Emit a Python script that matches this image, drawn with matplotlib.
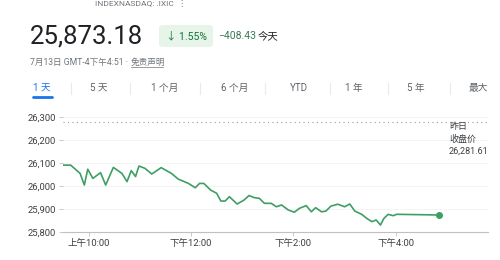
import matplotlib.pyplot as plt
from matplotlib.patches import FancyBboxPatch
from matplotlib.lines import Line2D

plt.rcParams['font.family'] = ['Roboto', 'Noto Sans CJK SC', 'DejaVu Sans']

# intraday prices
times = ["9:30", "9:39", "9:50", "9:55", "9:59", "10:05", "10:14", "10:20", "10:29", "10:39",
         "10:45", "10:50", "10:55", "10:59", "11:06", "11:14", "11:25", "11:37", "11:45", "11:57",
         "12:05", "12:10", "12:15", "12:23", "12:30", "12:35", "12:40", "12:45", "12:54", "13:02",
         "13:08", "13:14", "13:20", "13:26", "13:34", "13:40", "13:46", "13:54", "14:01", "14:07",
         "14:15", "14:21", "14:26", "14:33", "14:38", "14:44", "14:52", "15:00", "15:06", "15:12",
         "15:20", "15:26", "15:32", "15:37", "15:42", "15:46", "15:51", "15:57", "16:01", "16:51"]
prices = [26091, 26091, 26055, 26004, 26073, 26033, 26058, 26004, 26081, 26055,
          26019, 26067, 26041, 26087, 26077, 26052, 26080, 26055, 26030, 26011,
          25992, 26011, 26011, 25982, 25968, 25934, 25934, 25953, 25921, 25938,
          25958, 25949, 25946, 25924, 25924, 25909, 25917, 25895, 25885, 25902,
          25914, 25887, 25905, 25887, 25890, 25912, 25920, 25909, 25921, 25890,
          25876, 25858, 25844, 25851, 25829, 25858, 25876, 25870, 25876, 25873]
prev_close = 26281.61

yticks = [25800, 25900, 26000, 26100, 26200, 26300]
xtick_times = ["10:00", "12:00", "14:00", "16:00"]
xtick_labels = ["上午10:00", "下午12:00", "下午2:00", "下午4:00"]
tabs = ["1 天", "5 天", "1 个月", "6 个月", "YTD", "1 年", "5 年", "最大"]
tab_x = [42, 99, 165, 235, 299, 354, 416, 478]


def to_min(t):
    h, m = t.split(":")
    return (int(h) - 9) * 60 + int(m) - 30


x = [to_min(t) for t in times]
green = '#3f9e64'

fig = plt.figure(figsize=(5, 2.6), dpi=100)
W, H = 500, 260


def fx(px):
    return px / W


def fy(py):
    return 1 - py / H


# header
fig.text(fx(95), fy(4), "INDEXNASDAQ: .IXIC  ⋮", fontsize=6, color='#70757a', va='center')
fig.text(fx(30), fy(37), "25,873.18", fontsize=18.5, color='#202124', va='center')
badge = FancyBboxPatch((fx(159), fy(47)), fx(54), 22 / H, boxstyle="round,pad=0,rounding_size=0.01",
                       transform=fig.transFigure, facecolor='#e6f4ea', edgecolor='none')
fig.patches.append(badge)
fig.text(fx(186), fy(36), "↓ 1.55%", fontsize=7.5, color='#137333', ha='center', va='center')
fig.text(fx(218), fy(36), "−408.43", fontsize=7.5, color='#3c7a55', va='center')
fig.text(fx(258), fy(36), "今天", fontsize=7.5, color='#202124', va='center')
fig.text(fx(30), fy(62), "7月13日 GMT-4下午4:51 · ", fontsize=6.2, color='#70757a', va='center')
fig.text(fx(131), fy(62), "免责声明", fontsize=6.2, color='#70757a', va='center')
fig.lines.append(Line2D([fx(131), fx(163)], [fy(67), fy(67)], transform=fig.transFigure,
                        color='#70757a', lw=0.5))

# range tabs
for lbl, tx in zip(tabs, tab_x):
    col = '#1a73e8' if lbl == "1 天" else '#5f6368'
    fig.text(fx(tx), fy(88), lbl, fontsize=7, color=col, ha='center', va='center')
for sx in [71, 130, 200, 265, 330, 388, 450]:
    fig.lines.append(Line2D([fx(sx), fx(sx)], [fy(83), fy(94)], transform=fig.transFigure,
                            color='#e8eaed', lw=0.8))
fig.lines.append(Line2D([fx(33), fx(52)], [fy(97), fy(97)], transform=fig.transFigure,
                        color='#1a73e8', lw=2, solid_capstyle='round'))

# chart
ax = fig.add_axes([fx(63), fy(231.7), fx(488 - 63), (231.7 - 117.3) / H])
ax.plot(x, prices, color=green, lw=1.2, solid_joinstyle='round')
ax.plot(x[-1], prices[-1], 'o', color=green, ms=4)
ax.axhline(prev_close, color='#9aa0a6', lw=0.8, ls=(0, (1, 3)))
ax.set_xlim(0, 498)
ax.set_ylim(25800, 26300)
ax.set_yticks(yticks)
ax.set_yticklabels([f"{v:,}" for v in yticks])
ax.set_xticks([to_min(t) for t in xtick_times])
ax.set_xticklabels(xtick_labels)
ax.grid(axis='y', color='#f3f3f3', lw=0.6)
for s in ['top', 'right', 'left']:
    ax.spines[s].set_visible(False)
ax.spines['bottom'].set_color('#bdc1c6')
ax.spines['bottom'].set_linewidth(0.8)
ax.tick_params(axis='both', labelsize=6.8, colors='#3c4043', length=3, width=0.6, pad=2)
ax.tick_params(axis='both', color='#bdc1c6')

fig.text(fx(449), fy(139), "昨日\n收盘价\n26,281.61", fontsize=6.5, color='#3c4043',
         va='center', linespacing=1.5)

fig.savefig("out.png", dpi=100, facecolor='white')
